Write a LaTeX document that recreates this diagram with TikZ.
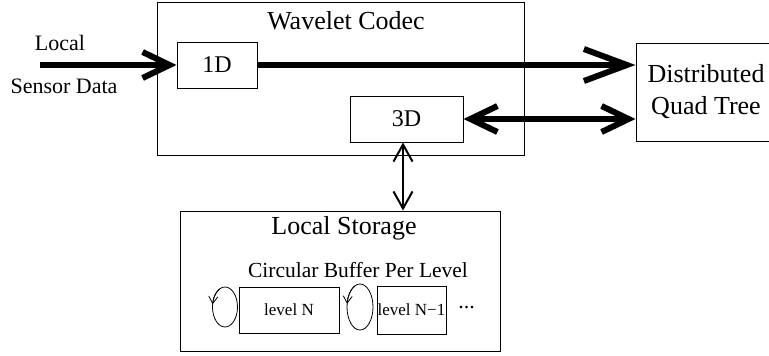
\documentclass[tikz,border=0pt]{standalone}
\usepackage{fontspec}
\setmainfont{Liberation Serif}
\usetikzlibrary{arrows.meta,calc,shapes.geometric}
\begin{document}
\begin{tikzpicture}[x=1pt,y=-1pt,
  box/.style={draw, line width=1pt, inner sep=0pt, rectangle},
  bigfont/.style={font=\fontsize{26}{32}\selectfont},
  midfont/.style={font=\fontsize{24}{28}\selectfont},
  lblfont/.style={font=\fontsize{22}{26}\selectfont},
  smallfont/.style={font=\fontsize{17}{20}\selectfont},
  fatarrow/.style={line width=6pt, -{Straight Barb[length=27pt,width=26pt]}},
  longarrow/.style={line width=6pt, -{Straight Barb[length=43pt,width=32pt]}},
  fatboth/.style={line width=6pt, {Straight Barb[length=27pt,width=26pt]}-{Straight Barb[length=27pt,width=26pt]}},
  thinboth/.style={line width=2pt, {Straight Barb[length=17pt,width=19pt]}-{Straight Barb[length=17pt,width=19pt]}},
  loopline/.style={line width=0.8pt},
  looptip/.style={line width=0.8pt, -{Straight Barb[length=7pt,width=9pt]}}
]
\useasboundingbox (0,0) rectangle (769,356);

% Wavelet codec
\node[box, minimum width=367pt, minimum height=153pt] (codec) at (340.5,78.5) {};
\node[bigfont] (codectitle) at (346,21) {Wavelet Codec};
\node[box, midfont, minimum width=80pt, minimum height=46pt] (d1) at (217,65) {1D};
\node[box, midfont, minimum width=113pt, minimum height=46pt] (d3) at (406.5,119) {3D};

% Distributed quad tree (clipped at right edge)
\begin{scope}
\clip (0,0) rectangle (769,356);
\node[box, bigfont, align=center, minimum width=140pt, minimum height=98pt] (dqt) at (706,92) {Distributed\\Quad Tree};
\end{scope}

% Input labels
\node[lblfont] (local) at (60,43) {Local};
\node[lblfont] (sensor) at (64,86) {Sensor Data};

% Local storage
\node[box, minimum width=320pt, minimum height=140pt] (ls) at (340,281) {};
\node[bigfont] (lstitle) at (344,228) {Local Storage};
\node[font=\fontsize{21.5}{25}\selectfont] (cbtitle) at (358,270) {Circular Buffer Per Level};
\node[box, smallfont, minimum width=100pt, minimum height=46pt] (lvN) at (289,310) {level N};
\node[box, smallfont, minimum width=69pt, minimum height=48pt] (lvN1) at (411.5,310) {level N−1};
\node[font=\fontsize{22}{24}\selectfont, inner sep=0pt] (dots) at (466.5,308) {...};

% loops
\node[draw, ellipse, loopline, minimum width=25pt, minimum height=40pt, inner sep=0pt] (loopA) at (225,307) {};
\node[draw, ellipse, loopline, minimum width=26pt, minimum height=46pt, inner sep=0pt] (loopB) at (360,307) {};
\draw[looptip] ($(loopA.center)+({12.5*cos(115)},{-20*sin(115)})$)
  arc[start angle=115, end angle=172, x radius=12.5pt, y radius=20pt];
\draw[looptip] ($(loopB.center)+({13*cos(115)},{-23*sin(115)})$)
  arc[start angle=115, end angle=172, x radius=13pt, y radius=23pt];

% connectors
\coordinate (inStart) at (40,65);
\draw[fatarrow] (inStart) -- (d1.west);
\draw[longarrow] (d1.east) -- (d1.east -| dqt.west);
\draw[fatboth] (d3.east) -- (d3.east -| dqt.west);
\coordinate (vtop) at ($(d3.south)+(-3.5,0)$);
\coordinate (vbot) at (vtop |- ls.north);
\draw[thinboth] (vtop) -- (vbot);
\end{tikzpicture}
\end{document}
